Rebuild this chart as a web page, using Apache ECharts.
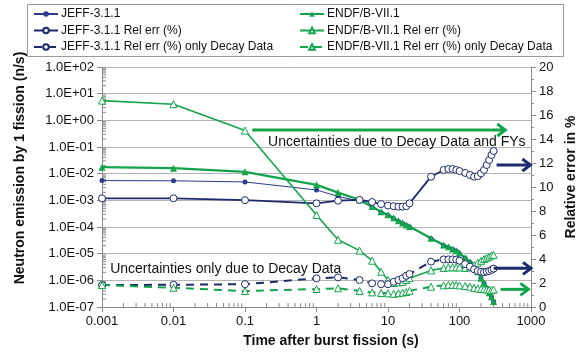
<!DOCTYPE html>
<html>
<head>
<meta charset="utf-8">
<script src="https://cdn.jsdelivr.net/npm/echarts@6/dist/echarts.min.js"></script>
<style>
html,body{margin:0;padding:0;background:#fff}
#chart{width:584px;height:355px}
</style>
</head>
<body>
<div id="chart"></div>
<script>
// Time after burst fission (s)
const times = [0.001, 0.01, 0.1, 1, 2, 4, 6, 8, 10, 12, 14, 16, 18, 20, 40, 60, 70, 80, 90, 100, 120, 140, 160, 180, 200, 220, 240, 260, 280, 300];

// Neutron emission per fission (n/s)
const jeffEmission = [5.5e-3, 5.4e-3, 4.9e-3, 2.45e-3, 1.4e-3, 9.5e-4, 5.6e-4, 3.5e-4, 2.7e-4, 2.1e-4, 1.6e-4, 1.35e-4, 1.15e-4, 1.0e-4, 3.6e-5, 2.0e-5, 1.7e-5, 1.45e-5, 1.25e-5, 1.0e-5, 6.8e-6, 4.8e-6, 3.1e-6, 2.0e-6, 1.2e-6, 7.8e-7, 5.2e-7, 3.4e-7, 2.4e-7, 1.6e-7];
const endfEmission = [1.75e-2, 1.6e-2, 1.17e-2, 3.8e-3, 1.95e-3, 1.05e-3, 5.9e-4, 3.7e-4, 2.9e-4, 2.2e-4, 1.7e-4, 1.4e-4, 1.2e-4, 1.05e-4, 3.8e-5, 2.1e-5, 1.8e-5, 1.5e-5, 1.3e-5, 1.05e-5, 7e-6, 5e-6, 3.2e-6, 2.1e-6, 1.2e-6, 8e-7, 5.3e-7, 3.4e-7, 2.4e-7, 1.6e-7];

// Relative error (%)
const jeffRelErr = [9.06, 9.06, 8.9, 8.64, 8.86, 8.92, 8.75, 8.58, 8.45, 8.4, 8.36, 8.36, 8.4, 8.64, 10.86, 11.42, 11.5, 11.5, 11.42, 11.33, 11.17, 11.0, 10.86, 10.9, 11.14, 11.42, 11.83, 12.25, 12.67, 13.0];
const endfRelErr = [17.2, 16.9, 14.7, 7.67, 5.6, 4.7, 3.86, 2.94, 2.25, 2.0, 2.05, 2.1, 2.25, 2.4, 3.05, 3.25, 3.3, 3.3, 3.3, 3.3, 3.25, 3.3, 3.5, 3.7, 3.85, 4.0, 4.1, 4.2, 4.3, 4.35];
const jeffRelErrDecay = [1.83, 1.85, 1.9, 2.39, 2.47, 2.25, 1.97, 1.9, 1.9, 2.1, 2.25, 2.4, 2.6, 2.75, 3.78, 3.97, 3.97, 3.97, 3.95, 3.86, 3.58, 3.36, 3.14, 3.0, 2.94, 2.9, 2.95, 3.0, 3.1, 3.2];
const endfRelErrDecay = [1.83, 1.6, 1.33, 1.5, 1.56, 1.33, 1.22, 1.17, 1.14, 1.1, 1.15, 1.2, 1.25, 1.35, 1.69, 1.8, 1.85, 1.85, 1.85, 1.8, 1.75, 1.7, 1.6, 1.55, 1.5, 1.5, 1.45, 1.45, 1.4, 1.45];

const seriesNames = [
  'JEFF-3.1.1', 'ENDF/B-VII.1',
  'JEFF-3.1.1 Rel err (%)', 'ENDF/B-VII.1 Rel err (%)',
  'JEFF-3.1.1 Rel err (%) only Decay Data', 'ENDF/B-VII.1 Rel err (%) only Decay Data'
];

// Annotation texts and arrows, placed in (time, relative error) coordinates
const noteTexts = [
  { text: 'Uncertainties due to Decay Data and FYs', at: [0.21, 13.75] },
  { text: 'Uncertainties only due to Decay Data', at: [0.0013, 3.17] }
];
const noteArrows = [
  { from: [0.126, 14.75], to: [437, 14.75], color: 'green' },
  { from: [330, 11.83], to: [980, 11.83], color: 'navy' },
  { from: [300, 3.22], to: [1000, 3.22], color: 'navy' },
  { from: [375, 1.47], to: [920, 1.47], color: 'green' }
];

const NAVY = '#1c2b6b';
const BLUE = '#2c3a8f';
const GREEN = '#13a54b';
const FONT = 'Liberation Sans, Arial, sans-serif';

const pairs = (vals) => times.map((t, i) => [t, vals[i]]);

// Classic log minor ticks (2..9 within each decade)
function logMinors(lo, hi) {
  const out = [];
  for (let e = lo; e < hi; e++) {
    for (let m = 2; m <= 9; m++) out.push(m * Math.pow(10, e));
  }
  return out;
}
const xMinor = logMinors(-3, 3);
const yMinor = logMinors(-7, 2);

function sciLabel(v) {
  const e = Math.round(Math.log10(v));
  const sign = e < 0 ? '-' : '+';
  const a = Math.abs(e);
  return '1.0E' + sign + (a < 10 ? '0' : '') + a;
}

const chart = echarts.init(document.getElementById('chart'), null, { renderer: 'canvas' });

const legendCommon = {
  orient: 'vertical',
  itemWidth: 24,
  itemHeight: 7,
  itemGap: 4.5,
  padding: 0,
  textStyle: { fontFamily: FONT, fontSize: 12, color: '#111', lineHeight: 12, padding: [0, 0, 0, -2] },
  selectedMode: false
};

const option = {
  animation: false,
  backgroundColor: '#fff',
  grid: { left: 102, right: 53, top: 67, bottom: 48, containLabel: false },
  legend: [
    Object.assign({ left: 33, top: 8, data: [seriesNames[0], seriesNames[2], seriesNames[4]] }, legendCommon),
    Object.assign({ left: 299, top: 8, data: [seriesNames[1], seriesNames[3], seriesNames[5]] }, legendCommon)
  ],
  xAxis: {
    type: 'log', logBase: 10, min: 0.001, max: 1000, interval: 1,
    axisLine: { lineStyle: { color: '#8a8a8a', width: 1 } },
    axisTick: { show: true, length: 5, lineStyle: { color: '#8a8a8a' } },
    axisLabel: {
      fontFamily: FONT, fontSize: 13, color: '#111', margin: 8,
      formatter: (v) => String(Number(v.toPrecision(3)))
    },
    splitLine: { show: false }
  },
  yAxis: [
    {
      type: 'log', logBase: 10, min: 1e-7, max: 100, interval: 1,
      axisLine: { show: true, lineStyle: { color: '#8a8a8a', width: 1 } },
      axisTick: { show: true, length: 5, lineStyle: { color: '#8a8a8a' } },
      axisLabel: { fontFamily: FONT, fontSize: 13, color: '#111', margin: 8, formatter: sciLabel },
      splitLine: { show: true, lineStyle: { color: '#b4b4b4', width: 1 } }
    },
    {
      type: 'value', min: 0, max: 20, interval: 2, position: 'right',
      axisLine: { show: true, lineStyle: { color: '#8a8a8a', width: 1 } },
      axisTick: { show: true, length: 5, lineStyle: { color: '#8a8a8a' } },
      minorTick: { show: true, splitNumber: 2, length: 3, lineStyle: { color: '#8a8a8a' } },
      axisLabel: { fontFamily: FONT, fontSize: 13, color: '#111', margin: 8 },
      splitLine: { show: false }
    }
  ],
  series: [
    {
      name: seriesNames[0], type: 'line', yAxisIndex: 0, data: pairs(jeffEmission),
      symbol: 'circle', symbolSize: 5, color: BLUE,
      lineStyle: { color: BLUE, width: 1 }, itemStyle: { color: BLUE }
    },
    {
      name: seriesNames[1], type: 'line', yAxisIndex: 0, data: pairs(endfEmission),
      symbol: 'triangle', symbolSize: 7, color: GREEN,
      lineStyle: { color: GREEN, width: 2.2 }, itemStyle: { color: GREEN }
    },
    {
      name: seriesNames[2], type: 'line', yAxisIndex: 1, data: pairs(jeffRelErr),
      symbol: 'circle', symbolSize: 7, color: NAVY,
      lineStyle: { color: NAVY, width: 1.8 },
      itemStyle: { color: '#fff', borderColor: NAVY, borderWidth: 1 }
    },
    {
      name: seriesNames[3], type: 'line', yAxisIndex: 1, data: pairs(endfRelErr),
      symbol: 'triangle', symbolSize: 7, color: GREEN,
      lineStyle: { color: GREEN, width: 1.6 },
      itemStyle: { color: '#fff', borderColor: GREEN, borderWidth: 1 }
    },
    {
      name: seriesNames[4], type: 'line', yAxisIndex: 1, data: pairs(jeffRelErrDecay),
      symbol: 'circle', symbolSize: 7, color: NAVY,
      lineStyle: { color: NAVY, width: 2, type: [8, 6] },
      itemStyle: { color: '#fff', borderColor: NAVY, borderWidth: 1 }
    },
    {
      name: seriesNames[5], type: 'line', yAxisIndex: 1, data: pairs(endfRelErrDecay),
      symbol: 'triangle', symbolSize: 7, color: GREEN,
      lineStyle: { color: GREEN, width: 2, type: [8, 6] },
      itemStyle: { color: '#fff', borderColor: GREEN, borderWidth: 1 }
    },
    {
      // log minor ticks on the time axis
      type: 'custom', xAxisIndex: 0, yAxisIndex: 0, silent: true, z: 1,
      data: xMinor.map((v) => [v]),
      encode: { x: 0 },
      renderItem: (params, api) => {
        const p = api.coord([api.value(0), 1e-7]);
        return { type: 'line', shape: { x1: p[0], y1: p[1], x2: p[0], y2: p[1] - 4 },
          style: { stroke: '#8a8a8a', lineWidth: 1 } };
      }
    },
    {
      // log minor ticks on the emission axis
      type: 'custom', xAxisIndex: 0, yAxisIndex: 0, silent: true, z: 1,
      data: yMinor.map((v) => [0.001, v]),
      encode: { x: 0, y: 1 },
      renderItem: (params, api) => {
        const p = api.coord([0.001, api.value(1)]);
        return { type: 'line', shape: { x1: p[0], y1: p[1], x2: p[0] + 4, y2: p[1] },
          style: { stroke: '#8a8a8a', lineWidth: 1 } };
      }
    }
  ]
};

chart.setOption(option);

// Titles, annotation texts and arrows
const toPx = (pt) => chart.convertToPixel({ xAxisIndex: 0, yAxisIndex: 1 }, pt);
const graphics = [
  { type: 'rect', shape: { x: 27.5, y: 4.5, width: 536, height: 52 },
    style: { fill: 'none', stroke: '#9a9a9a', lineWidth: 1 }, z: 0 },
  { type: 'text', x: 331, y: 341,
    style: { text: 'Time after burst fission (s)', font: 'bold 14px ' + FONT, fill: '#111', align: 'center', verticalAlign: 'middle' } },
  { type: 'text', x: 20, y: 168, rotation: Math.PI / 2,
    style: { text: 'Neutron emission by 1 fission (n/s)', font: 'bold 14px ' + FONT, fill: '#111', align: 'center', verticalAlign: 'middle' } },
  { type: 'text', x: 571, y: 177, rotation: Math.PI / 2,
    style: { text: 'Relative error in %', font: 'bold 14px ' + FONT, fill: '#111', align: 'center', verticalAlign: 'middle' } }
];
noteTexts.forEach((n) => {
  const p = toPx(n.at);
  graphics.push({ type: 'text', x: p[0], y: p[1], z: 10,
    style: { text: n.text, font: '14px ' + FONT, fill: '#111', align: 'left', verticalAlign: 'middle' } });
});
noteArrows.forEach((a) => {
  const p0 = toPx(a.from), p1 = toPx(a.to);
  const col = a.color === 'green' ? GREEN : NAVY;
  graphics.push({ type: 'line', z: 10, shape: { x1: p0[0], y1: p0[1], x2: p1[0] - 1, y2: p1[1] },
    style: { stroke: col, lineWidth: 3 } });
  graphics.push({ type: 'polyline', z: 10,
    shape: { points: [[p1[0] - 8, p1[1] - 6], [p1[0], p1[1]], [p1[0] - 8, p1[1] + 6]] },
    style: { stroke: col, lineWidth: 3, fill: 'none', lineJoin: 'miter' } });
});
chart.setOption({ graphic: graphics });
</script>
</body>
</html>
